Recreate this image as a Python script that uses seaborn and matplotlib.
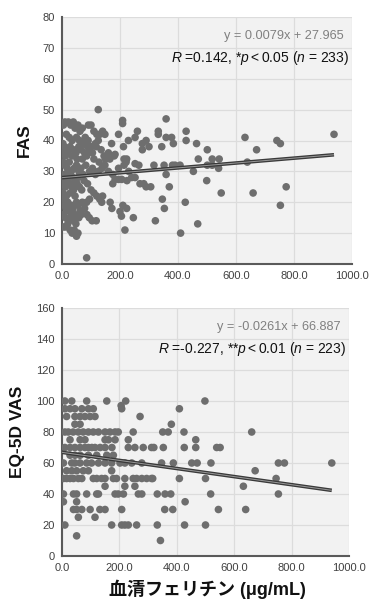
import numpy as np
import pandas as pd
import matplotlib
matplotlib.use("Agg")
import matplotlib.pyplot as plt
import seaborn as sns

# ---------------- data ----------------
# FAS vs serum ferritin
fas_x = [359, 332, 332, 359, 378, 384, 344, 428, 428, 464, 501, 631, 671, 741, 753, 938,
         317, 352, 381, 390, 407, 470, 518, 542, 501, 518, 540, 639, 453, 359, 306, 370,
         499, 549, 659, 773, 346, 353, 425, 753, 322, 468, 409,
         171, 180, 165, 214, 214, 229, 252, 277, 277, 212, 209, 209, 125, 183, 223, 252,
         221, 175, 183, 195, 206, 224, 240, 252, 269, 282, 290, 175, 160, 137, 166, 172,
         210, 200, 205, 223, 246, 217, 195, 230, 265, 160, 290, 300, 195, 260,
         5, 10, 22, 30, 39, 45, 55, 62, 70, 80, 91, 100, 110, 120, 130, 140, 148, 15, 25,
         35, 50, 60, 75, 90, 100, 115, 125,
         3, 8, 18, 28, 40, 48, 58, 66, 78, 88, 96, 105, 118, 135, 145, 5, 12, 20, 35, 52,
         70, 85, 110, 128, 150,
         3, 10, 18, 25, 32, 42, 50, 58, 65, 72, 82, 95, 105, 115, 125, 138, 148, 8, 20, 38, 55,
         2, 6, 12, 18, 26, 34, 40, 46, 52, 60, 68, 76, 88, 100, 110, 120, 130, 140, 4, 15, 28, 45,
         3, 8, 14, 20, 26, 32, 38, 44, 50, 56, 62, 70, 78, 86, 94, 104, 118, 5, 12, 22, 30, 40,
         48, 58, 66, 85, 95,
         5, 12, 20, 28, 35, 42, 50, 55, 85]
fas_y = [47, 43, 42, 41, 41, 39, 38, 43, 40, 39, 37, 41, 37, 40, 39, 42,
         32, 32, 32, 32, 32, 34, 34, 34, 32, 32, 31, 33, 30, 29, 25, 25,
         27, 23, 23, 25, 21, 18, 20, 19, 14, 13, 10,
         39, 35, 34, 34, 32, 40, 41, 39, 37, 38, 46.5, 45.5, 50, 35.5, 34, 32.5,
         33, 29, 27.4, 27.4, 27.4, 27, 28, 28, 26, 26, 25, 26, 30, 20, 20, 18,
         19, 17, 15.5, 18, 15, 11, 31, 30, 32, 36, 40, 38, 42, 43,
         45, 46, 46, 45, 46, 44, 45, 43, 44, 41, 45, 45, 43, 42, 42, 43, 42, 42, 41,
         40, 41, 40, 39, 40, 38, 39, 40,
         39, 38, 37, 38, 37, 36, 38, 37, 36, 38, 37, 36, 38, 37, 35, 36, 35, 36, 35, 34,
         34, 35, 34, 33, 34,
         33, 32, 31, 33, 30, 31, 32, 30, 31, 29, 32, 30, 31, 29, 30, 31, 32, 29, 29, 28, 28,
         28, 26, 25, 27, 26, 25, 24, 27, 26, 25, 24, 27, 26, 24, 23, 22, 21, 22, 23, 22, 23, 22,
         21, 19, 18, 20, 17, 19, 18, 16, 20, 19, 17, 20, 18, 16, 15, 14, 14, 16, 15, 14, 15, 14,
         13, 15, 16, 20, 21,
         12, 12, 13, 11, 10, 11, 9, 10, 2]
fas_slope, fas_intercept = 0.0079, 27.965

# EQ-5D VAS vs serum ferritin (rows of equal VAS value)
vas_rows = {
    100: [10, 34, 86, 156, 222, 498],
    97: [206],
    95: [10, 28, 45, 69, 92, 109, 208, 409],
    90: [16, 45, 63, 80, 98, 115, 272],
    85: [45, 63, 381],
    80: [10, 22, 39, 57, 74, 92, 109, 127, 150, 167, 185, 196, 248, 351, 370, 425, 661],
    75: [28, 63, 80, 150, 162, 185, 231, 466],
    70: [10, 28, 45, 63, 80, 92, 104, 115, 133, 150, 174, 231, 254, 283, 312, 320, 353,
         426, 466, 539, 551],
    65: [28, 45, 63, 92, 121, 156, 179],
    60: [5, 34, 45, 63, 86, 103, 127, 150, 173, 202, 219, 243, 278, 347, 388, 452, 471,
         519, 754, 775, 940],
    55: [16, 34, 51, 74, 92, 173, 673],
    50: [5, 16, 28, 40, 57, 69, 109, 121, 138, 150, 179, 190, 219, 248, 260, 278, 295,
         312, 316, 409, 500, 746],
    45: [150, 219, 254, 632],
    40: [5, 40, 51, 86, 121, 127, 185, 196, 214, 266, 278, 332, 359, 379, 518, 754],
    35: [5, 51, 429],
    30: [40, 51, 69, 98, 132, 150, 208, 358, 386, 545, 640],
    25: [57, 115],
    20: [10, 173, 208, 219, 231, 260, 332, 427, 500],
    13: [51],
    10: [343],
}
vas_slope, vas_intercept = -0.0261, 66.887

x_ticks = [0, 200, 400, 600, 800, 1000]
fas_ticks = [0, 10, 20, 30, 40, 50, 60, 70, 80]
vas_ticks = [0, 20, 40, 60, 80, 100, 120, 140, 160]

fas_eq = "y = 0.0079x + 27.965"
fas_stat = r"$\mathit{R}$ =0.142, *$\mathit{p}<$0.05 ($\mathit{n}$ = 233)"
vas_eq = "y = -0.0261x + 66.887"
vas_stat = r"$\mathit{R}$ =-0.227, **$\mathit{p}<$0.01 ($\mathit{n}$ = 223)"
xlabel = "血清フェリチン (μg/mL)"

# ---------------- style ----------------
sns.set_theme(style="whitegrid")
plt.rcParams['font.family'] = ['Liberation Sans', 'Noto Sans CJK JP', 'DejaVu Sans']
plt.rcParams['mathtext.fontset'] = 'custom'
plt.rcParams['mathtext.rm'] = 'Liberation Sans'
plt.rcParams['mathtext.it'] = 'Liberation Sans:italic'

fas_df = pd.DataFrame({"x": fas_x, "y": fas_y})
vx, vy = [], []
for val, xs in vas_rows.items():
    vx += xs
    vy += [val] * len(xs)
vas_df = pd.DataFrame({"x": vx, "y": vy})

fig = plt.figure(figsize=(3.71, 6.02), dpi=100)
ax1 = fig.add_axes([62/371, 1-264/602, 290/371, 247/602])
ax2 = fig.add_axes([62/371, 1-556/602, 287/371, 248/602])

pt_color = "#6e6e6e"


def style_axis(ax, yticks, ylim, ylabel):
    ax.set_facecolor("#f2f2f2")
    ax.set_xlim(0, 1000)
    ax.set_ylim(*ylim)
    ax.set_xticks(x_ticks)
    ax.set_xticklabels([f"{t:.1f}" for t in x_ticks])
    ax.set_yticks(yticks)
    ax.grid(True, color="#dcdcdc", linewidth=0.9)
    ax.set_axisbelow(True)
    for s in ["top", "right"]:
        ax.spines[s].set_visible(False)
    for s in ["left", "bottom"]:
        ax.spines[s].set_visible(True)
        ax.spines[s].set_color("#5a5a5a")
        ax.spines[s].set_linewidth(1.5)
    ax.tick_params(length=0, labelsize=8, colors="#404040", pad=5)
    ax.set_ylabel(ylabel, fontsize=12.5, fontweight="bold", color="#111111", labelpad=8)
    ax.set_xlabel("")


def draw(ax, df, slope, intercept):
    sns.scatterplot(data=df, x="x", y="y", ax=ax, s=30, color=pt_color,
                    edgecolor="none", linewidth=0, zorder=3)
    lx = np.array([0, df["x"].max()])
    ly = slope * lx + intercept
    ax.plot(lx, ly, color="#3a3a3a", lw=2.6, zorder=4, solid_capstyle="butt")
    ax.plot(lx, ly, color="#9a9a9a", lw=0.7, zorder=5, solid_capstyle="butt")


draw(ax1, fas_df, fas_slope, fas_intercept)
style_axis(ax1, fas_ticks, (0, 80), "FAS")
draw(ax2, vas_df, vas_slope, vas_intercept)
style_axis(ax2, vas_ticks, (0, 160), "EQ-5D VAS")

ax1.text(0.97, 0.925, fas_eq, transform=ax1.transAxes, ha="right", va="center",
         fontsize=9.2, color="#808080")
ax1.text(0.99, 0.835, fas_stat, transform=ax1.transAxes, ha="right", va="center",
         fontsize=10, color="#111111")
ax2.text(0.97, 0.925, vas_eq, transform=ax2.transAxes, ha="right", va="center",
         fontsize=9.2, color="#808080")
ax2.text(0.99, 0.835, vas_stat, transform=ax2.transAxes, ha="right", va="center",
         fontsize=10, color="#111111")

fig.text(207/371, 1-589/602, xlabel, ha="center", va="center",
         fontsize=13, fontweight="bold", color="#111111")

fig.savefig("out.png", dpi=100, facecolor="white")
